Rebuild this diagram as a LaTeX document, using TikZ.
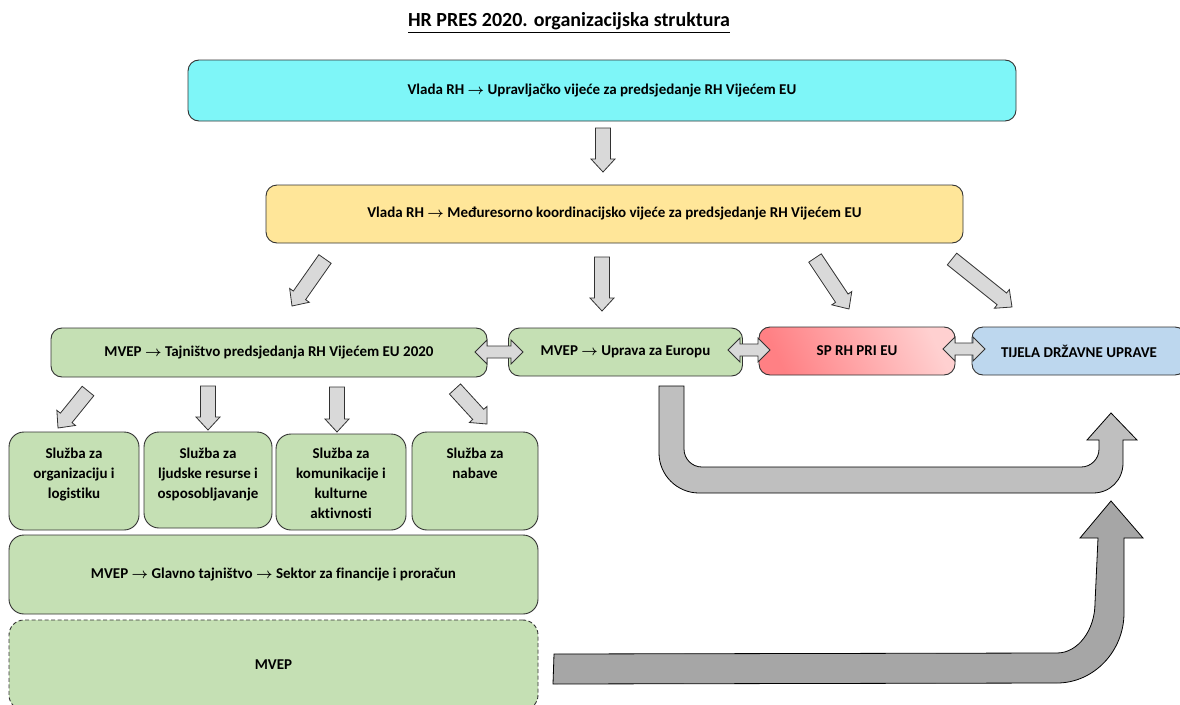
\documentclass[tikz,border=0pt]{standalone}
\usepackage{amsmath}
\usepackage{fontspec}
\setmainfont{Carlito}[Ligatures=NoCommon]
\newcommand\ra{$\boldsymbol{\rightarrow}$}
\usetikzlibrary{calc}
\definecolor{cyanb}{RGB}{126,246,248}
\definecolor{yelb}{RGB}{255,230,153}
\definecolor{greenb}{RGB}{197,224,180}
\definecolor{blueb}{RGB}{189,215,238}
\definecolor{redl}{RGB}{255,128,132}
\definecolor{redr}{RGB}{255,208,208}
\definecolor{edge}{RGB}{50,50,50}
\definecolor{arrf}{RGB}{217,217,217}
\definecolor{uarr}{RGB}{191,191,191}
\definecolor{sarr}{RGB}{166,166,166}
\tikzset{
  box/.style={draw=edge, line width=0.9pt, rounded corners=11pt, font=\bfseries\fontsize{15}{20}\selectfont, align=center, inner sep=0pt},
  svcbox/.style={box, rounded corners=15pt, fill=greenb},
  svctext/.style={font=\bfseries\fontsize{15}{20}\selectfont, align=center, inner sep=0pt, anchor=north},
  barrow/.style={draw=edge, line width=0.8pt, fill=arrf, line join=miter},
  bigarrow/.style={draw=black, line width=0.8pt, line join=miter},
}
% single block arrow: #1 tail, #2 tip
\newcommand\blockarr[2]{%
  \coordinate (bm) at ($(#2)!13pt!(#1)$);
  \draw[barrow] ($(#1)!7.5pt!90:(#2)$) -- ($(bm)!7.5pt!90:(#2)$) -- ($(bm)!12pt!90:(#2)$) -- (#2)
    -- ($(bm)!12pt!-90:(#2)$) -- ($(bm)!7.5pt!-90:(#2)$) -- ($(#1)!7.5pt!-90:(#2)$) -- cycle;}
% double block arrow between #1 and #2
\newcommand\dblarr[2]{%
  \coordinate (dm1) at ($(#1)!12pt!(#2)$);
  \coordinate (dm2) at ($(#2)!12pt!(#1)$);
  \draw[barrow] (#1) -- ($(dm1)!12pt!90:(#2)$) -- ($(dm1)!6pt!90:(#2)$) -- ($(dm2)!6pt!-90:(#1)$)
    -- ($(dm2)!12pt!-90:(#1)$) -- (#2) -- ($(dm2)!12pt!90:(#1)$) -- ($(dm2)!6pt!90:(#1)$)
    -- ($(dm1)!6pt!-90:(#2)$) -- ($(dm1)!12pt!-90:(#2)$) -- cycle;}
\begin{document}
\begin{tikzpicture}[x=1pt,y=-1pt]
\useasboundingbox (0,0) rectangle (1180,704);
% title
\node[font=\bfseries\fontsize{20}{24}\selectfont, inner sep=0pt] (title) at (569,23)
  {\underline{HR PRES 2020. organizacijska struktura}};
% main boxes
\node[box, fill=cyanb, minimum width=828pt, minimum height=61pt] (vijece) at (602,90.5) {Vlada RH \ra{} Upravljačko vijeće za predsjedanje RH Vijećem EU};
\node[box, fill=yelb, minimum width=697pt, minimum height=58pt] (koord) at (614.5,214) {Vlada RH \ra{} Međuresorno koordinacijsko vijeće za predsjedanje RH Vijećem EU};
\node[box, fill=greenb, minimum width=436pt, minimum height=49pt] (tajn) at (269,352.5) {MVEP \ra{} Tajništvo predsjedanja RH Vijećem EU 2020};
\node[box, fill=greenb, minimum width=234pt, minimum height=48pt] (uprava) at (625.5,352) {MVEP \ra{} Uprava za Europu};
\node[box, left color=redl, right color=redr, shading angle=115, minimum width=196pt, minimum height=48pt] (sp) at (857,351) {SP RH PRI EU};
\node[box, fill=blueb, minimum width=214pt, minimum height=48pt] (tijela) at (1079,351) {TIJELA DRŽAVNE UPRAVE};
% services
\node[svcbox, minimum width=130pt, minimum height=98pt] (s1) at (74,481) {};
\node[svcbox, minimum width=128pt, minimum height=96pt] (s2) at (208,480) {};
\node[svcbox, minimum width=130pt, minimum height=96pt] (s3) at (341,482) {};
\node[svcbox, minimum width=126pt, minimum height=98pt] (s4) at (475,481) {};
\node[svctext] (s1t) at (74,448) {Služba za\\organizaciju i\\logistiku};
\node[svctext] (s2t) at (208,448) {Služba za\\ljudske resurse i\\osposobljavanje};
\node[svctext] (s3t) at (341,448) {Služba za\\komunikacije i\\kulturne\\aktivnosti};
\node[svctext] (s4t) at (475,448) {Služba za\\nabave};
\node[svcbox, minimum width=529pt, minimum height=79pt] (glavno) at (273.5,574.5) {MVEP \ra{} Glavno tajništvo \ra{} Sektor za financije i proračun};
\node[box, rounded corners=15pt, fill=greenb, dash pattern=on 4pt off 2.5pt, minimum width=529pt, minimum height=90pt] (mvep) at (273.5,665) {MVEP};
% block arrow end points
\coordinate (a0s) at (603,128); \coordinate (a0e) at (603,172);
\coordinate (a1s) at (325,259); \coordinate (a1e) at (292,306);
\coordinate (a2s) at (602,257); \coordinate (a2e) at (602,311);
\coordinate (a3s) at (815,258); \coordinate (a3e) at (849,309);
\coordinate (a4s) at (952,259); \coordinate (a4e) at (1012,307);
\coordinate (b1s) at (88,391); \coordinate (b1e) at (58,428);
\coordinate (b2s) at (208,386); \coordinate (b2e) at (208,430);
\coordinate (b3s) at (337,387); \coordinate (b3e) at (337,432);
\coordinate (b4s) at (455,389); \coordinate (b4e) at (487,424);
\coordinate (d1s) at (475,352); \coordinate (d1e) at (523,352);
\coordinate (d2s) at (728,350); \coordinate (d2e) at (770,350);
\coordinate (d3s) at (943,349); \coordinate (d3e) at (985,349);
\blockarr{a0s}{a0e}
\blockarr{a1s}{a1e}
\blockarr{a2s}{a2e}
\blockarr{a3s}{a3e}
\blockarr{a4s}{a4e}
\blockarr{b1s}{b1e}
\blockarr{b2s}{b2e}
\blockarr{b3s}{b3e}
\blockarr{b4s}{b4e}
\dblarr{d1s}{d1e}
\dblarr{d2s}{d2e}
\dblarr{d3s}{d3e}
% U-turn arrow from Uprava
\coordinate (ustart) at (659,386);
\draw[bigarrow, fill=uarr] (ustart) -- (659,453) .. controls (659,475) and (677,493) .. (699,493)
  -- (1093,493) .. controls (1110,493) and (1123,480) .. (1123,463)
  -- (1123,440) -- (1137,440) -- (1111,413) -- (1087,440) -- (1099,440)
  -- (1099,449) .. controls (1099,459) and (1091,467) .. (1081,467)
  -- (702,467) .. controls (692,467) and (684,459) .. (684,449)
  -- (684,386) -- cycle;
% arrow from MVEP
\coordinate (mstart) at (554,654);
\draw[bigarrow, fill=sarr] (mstart) -- (1057,653) .. controls (1078,653) and (1095,630) .. (1095,603)
  -- (1098,538) -- (1080,538) -- (1111,501) -- (1143,538) -- (1124,538)
  -- (1124,613) .. controls (1124,651) and (1094,683) .. (1057,683)
  -- (553,684) -- cycle;
\end{tikzpicture}
\end{document}
